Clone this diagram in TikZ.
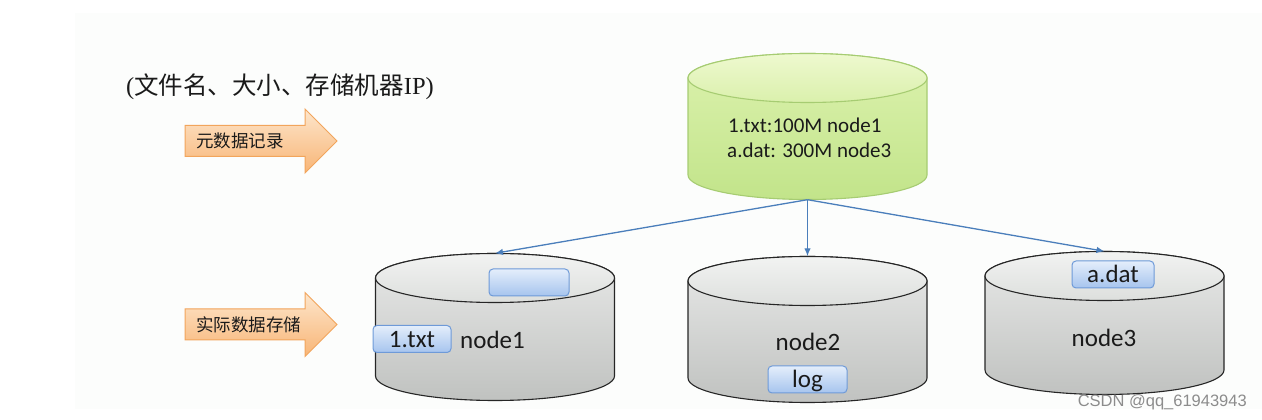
\documentclass[tikz,border=0pt]{standalone}
\usepackage{fontspec}
\setmainfont{Carlito}
\newfontfamily\cjk{Noto Sans CJK SC}
\newfontfamily\serifl{Liberation Serif}
\newfontfamily\wmfont{Liberation Sans}
\usetikzlibrary{arrows.meta}
\definecolor{slidebg}{HTML}{FCFDFC}
\definecolor{greyT}{HTML}{E8E9E8}
\definecolor{greyB}{HTML}{C0C2C0}
\definecolor{greyET}{HTML}{F2F3F2}
\definecolor{greyEB}{HTML}{DDDFDD}
\definecolor{greenT}{HTML}{DCF2AE}
\definecolor{greenB}{HTML}{C2E48A}
\definecolor{greenET}{HTML}{EEF9CF}
\definecolor{greenEB}{HTML}{DAF0AC}
\definecolor{greenL}{HTML}{A6CC72}
\definecolor{blueT}{HTML}{E4EEFB}
\definecolor{blueB}{HTML}{A6C4EE}
\definecolor{blueL}{HTML}{6E9AD8}
\definecolor{orT}{HTML}{FDE6CC}
\definecolor{orB}{HTML}{F8B576}
\definecolor{orL}{HTML}{F2A55C}
\definecolor{conn}{HTML}{4A7EBB}
\definecolor{txt}{HTML}{1A1A1A}
\tikzset{
  greybody/.style={draw=black!85, line width=1.1pt, top color=greyT, bottom color=greyB},
  greyend/.style={draw=black!85, line width=1.1pt, top color=greyET, bottom color=greyEB},
  greenbody/.style={draw=greenL, line width=1.1pt, top color=greenT, bottom color=greenB},
  greenend/.style={draw=greenL, line width=1.1pt, top color=greenET, bottom color=greenEB},
  bluebox/.style={draw=blueL, line width=1pt, rounded corners=4pt, top color=blueT, bottom color=blueB,
    inner sep=0pt, minimum height=27pt, text height=19pt, text depth=2pt, font=\fontsize{25}{25}\selectfont, text=txt},
  nodelabel/.style={inner sep=0pt, font=\fontsize{25}{25}\selectfont, text=txt},
  metalabel/.style={inner sep=0pt, font=\fontsize{21}{21}\selectfont, text=txt},
  orlabel/.style={inner sep=0pt, font=\cjk\fontsize{17.5}{17.5}\selectfont, text=txt},
  orarrow/.style={draw=orL, line width=1pt, top color=orT, bottom color=orB},
  connector/.style={draw=conn, line width=1.3pt, -{Latex[length=8pt,width=6.5pt]}}
}
\newcommand\drawcyl[5]{%
  \path[#5body] ({#2-119.5},#3) -- ({#2-119.5},#4)
    arc[start angle=180,end angle=360,x radius=119.5,y radius=24.5]
    -- ({#2+119.5},#3)
    arc[start angle=0,end angle=180,x radius=119.5,y radius=24.5] -- cycle;
  \path[#5end] (#2,#3) ellipse[x radius=119.5,y radius=24.5];
  \node[inner sep=0pt, minimum width=239pt, minimum height={#3-#4+49}] (#1) at (#2,{(#3+#4)/2}) {};
}
\newcommand\drawor[1]{%
  \path[orarrow] (185,{#1+15.5}) -- (305,{#1+15.5}) -- (305,{#1+32}) -- (337,#1)
    -- (305,{#1-32}) -- (305,{#1-15.5}) -- (185,{#1-15.5}) -- cycle;
}
\begin{document}
\begin{tikzpicture}[x=1pt,y=1pt]
\useasboundingbox (0,0) rectangle (1262,420);
\fill[white] (0,0) rectangle (1262,420);
\fill[slidebg] (75,11) rectangle (1262,407);

% title
\node[anchor=west, inner sep=0pt, text=txt, font=\fontsize{24.5}{24.5}\selectfont] (title) at (126,333)
  {{\serifl (}{\cjk 文件名、大小、存储机器}{\serifl IP)}};

% orange arrows
\drawor{279}
\node[orlabel, anchor=west] (lmeta) at (196,279) {元数据记录};
\drawor{95.5}
\node[orlabel, anchor=west] (lstore) at (196,95.5) {实际数据存储};

% cylinders
\drawcyl{meta}{807.5}{342}{245}{green}
\drawcyl{n1}{495}{142}{44}{grey}
\drawcyl{n2}{807.5}{139}{42}{grey}
\drawcyl{n3}{1104.5}{144}{50}{grey}

% meta text
\node[metalabel, anchor=base west] (m1) at (728,287) {1.txt:100M node1};
\node[metalabel, anchor=base west] (m2) at (727,262) {a.dat: 300M node3};

% blue boxes
\node[bluebox, minimum width=80pt] (b0) at (529,137.5) {};
\node[bluebox, minimum width=78pt] (b1) at (412,81) {1.txt};
\node[bluebox, minimum width=79pt] (b2) at (807.5,40.5) {log};
\node[bluebox, minimum width=82pt] (b3) at (1113,145.5) {a.dat};

% node labels
\node[nodelabel, anchor=base west] (t1) at (460,71) {node1};
\node[nodelabel, anchor=base] (t2) at (808,69) {node2};
\node[nodelabel, anchor=base] (t3) at (1104,73) {node3};

% connectors
\draw[connector] (meta.south) -- (n1.north);
\draw[connector] (meta.south) -- (n2.north);
\draw[connector] (meta.south) -- (n3.north);

% watermark
\node[anchor=base east, inner sep=0pt, text=black!45, font=\wmfont\fontsize{16.5}{16.5}\selectfont] (wm) at (1247,13.3) {CSDN @qq\_61943943};
\end{tikzpicture}
\end{document}
